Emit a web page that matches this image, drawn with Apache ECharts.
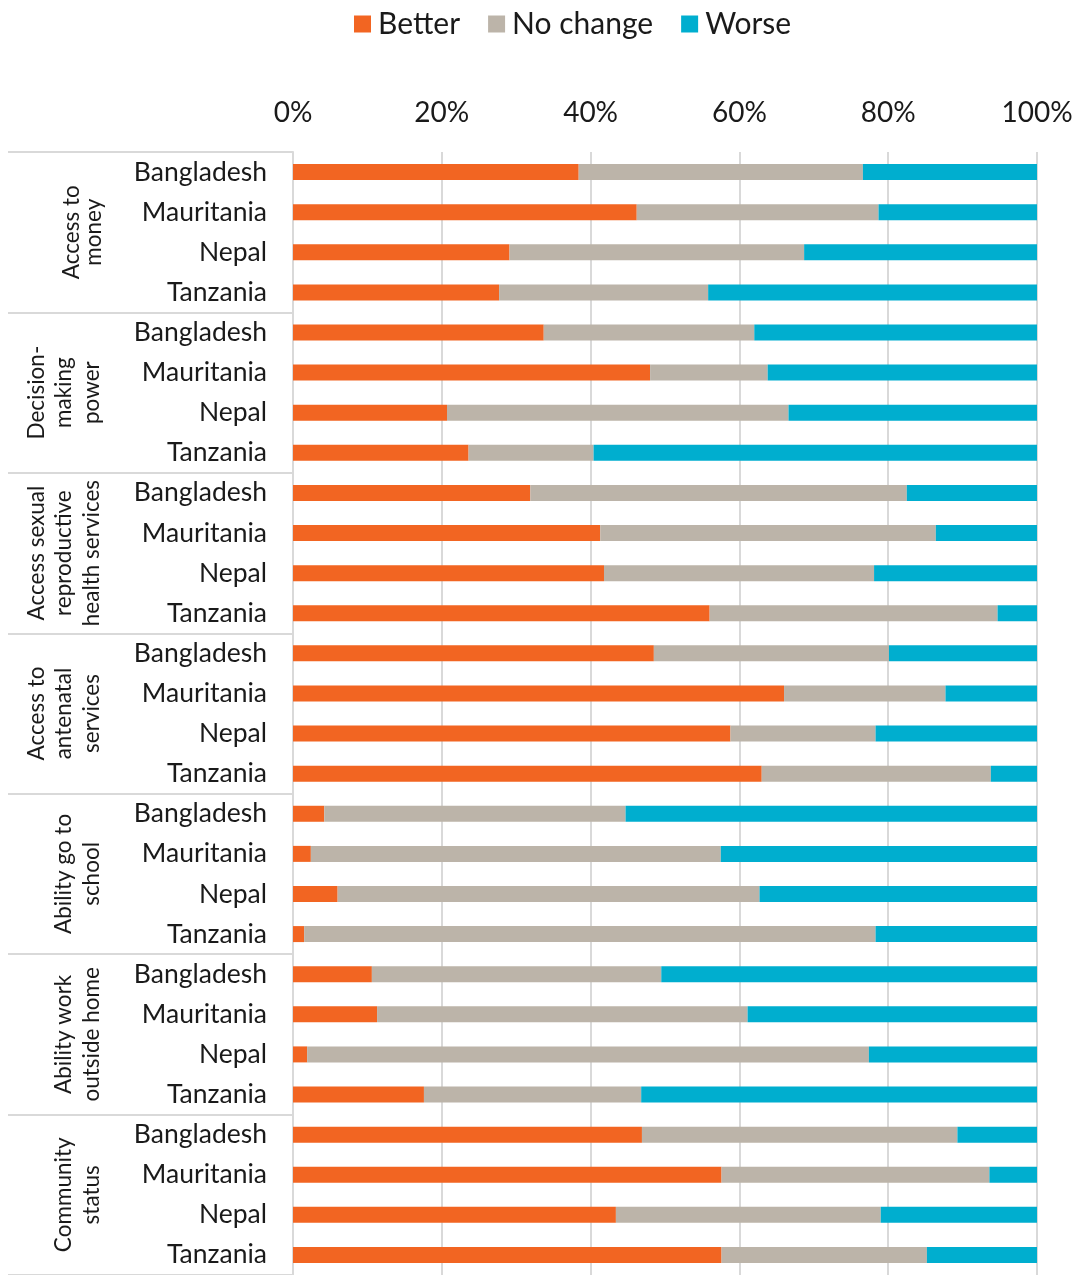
<!DOCTYPE html>
<html>
<head>
<meta charset="utf-8">
<script src="https://cdn.jsdelivr.net/npm/echarts@6/dist/echarts.min.js"></script>
<style>
  html, body { margin: 0; padding: 0; background: #ffffff; }
  #chart { width: 1081px; height: 1275px; }
</style>
</head>
<body>
<div id="chart"></div>
<script>
// Outcome groups (each spans four country rows)
const groups = [
  'Access to\nmoney',
  'Decision-\nmaking\npower',
  'Access sexual\nreproductive\nhealth services',
  'Access to\nantenatal\nservices',
  'Ability go to\nschool',
  'Ability work\noutside home',
  'Community\nstatus'
];
const countries = ['Bangladesh', 'Mauritania', 'Nepal', 'Tanzania'];

// Share of respondents (%) per row, top to bottom
const better = [
  38.4, 46.2, 29.1, 27.7,
  33.7, 48.0, 20.7, 23.6,
  31.9, 41.3, 41.8, 56.0,
  48.5, 66.0, 58.8, 63.0,
  4.2, 2.4, 6.0, 1.5,
  10.6, 11.3, 1.9, 17.6,
  46.9, 57.6, 43.4, 57.6
];
const noChange = [
  38.2, 32.5, 39.6, 28.1,
  28.3, 15.8, 45.9, 16.8,
  50.6, 45.1, 36.3, 38.7,
  31.6, 21.7, 19.5, 30.8,
  40.5, 55.1, 56.7, 76.8,
  38.9, 49.8, 75.5, 29.2,
  42.4, 36.0, 35.6, 27.6
];
const worse = [
  23.4, 21.3, 31.3, 44.2,
  38.0, 36.2, 33.4, 59.6,
  17.5, 13.6, 21.9, 5.3,
  19.9, 12.3, 21.7, 6.2,
  55.3, 42.5, 37.3, 21.7,
  50.5, 38.9, 22.6, 53.2,
  10.7, 6.4, 21.0, 14.8
];
const xTicks = { min: 0, max: 100, interval: 20 };

// One row label per bar: the country list repeated for every group
const rowLabels = [];
groups.forEach(() => countries.forEach(c => rowLabels.push(c)));

const FONT = 'Lato, "Noto Sans", sans-serif';
const GRID_LINE = '#d9d9d9';

const chart = echarts.init(document.getElementById('chart'), null, { renderer: 'canvas' });

chart.setOption({
  backgroundColor: '#ffffff',
  animation: false,
  textStyle: { fontFamily: FONT, color: '#1a1a1a' },
  legend: {
    top: 4,
    left: 349,
    icon: 'rect',
    itemWidth: 17,
    itemHeight: 17,
    itemGap: 28,
    textStyle: { fontFamily: FONT, fontSize: 30, color: '#1a1a1a', padding: [0, 0, 0, 2] },
    data: ['Better', 'No change', 'Worse']
  },
  grid: { left: 293, top: 152, width: 744, height: 1126, containLabel: false },
  xAxis: {
    type: 'value',
    position: 'top',
    min: xTicks.min,
    max: xTicks.max,
    interval: xTicks.interval,
    axisLine: { show: false },
    axisTick: { show: false },
    axisLabel: {
      formatter: '{value}%',
      fontFamily: FONT,
      fontSize: 28,
      color: '#1a1a1a',
      margin: 25
    },
    splitLine: { show: true, lineStyle: { color: GRID_LINE, width: 2 } }
  },
  yAxis: [
    {
      type: 'category',
      inverse: true,
      data: rowLabels,
      axisLine: { show: true, lineStyle: { color: GRID_LINE, width: 2 } },
      axisTick: { show: false },
      axisLabel: {
        interval: 0,
        fontFamily: FONT,
        fontSize: 26.5,
        color: '#1a1a1a',
        margin: 26
      }
    },
    {
      // group band: ticks mark the group boundaries, labels name the groups
      type: 'category',
      inverse: true,
      position: 'left',
      data: groups,
      axisLine: { show: false },
      axisTick: {
        show: true,
        interval: 0,
        length: 285,
        lineStyle: { color: GRID_LINE, width: 2 }
      },
      axisLabel: {
        interval: 0,
        rotate: 90,
        margin: 188,
        align: 'center',
        verticalAlign: 'bottom',
        fontFamily: FONT,
        fontSize: 22.5,
        lineHeight: 27.5,
        color: '#1a1a1a',
        // the first group is set a little tighter
        formatter: (value, index) => index === 0
          ? value.split('\n').map(s => '{tight|' + s + '}').join('\n')
          : value,
        rich: {
          tight: { fontFamily: FONT, fontSize: 22.5, lineHeight: 22, color: '#1a1a1a' }
        }
      },
      splitLine: { show: false }
    }
  ],
  series: [
    {
      name: 'Better', type: 'bar', stack: 'total', barWidth: 16,
      itemStyle: { color: '#F26522' }, data: better
    },
    {
      name: 'No change', type: 'bar', stack: 'total', barWidth: 16,
      itemStyle: { color: '#BCB4A9' }, data: noChange
    },
    {
      name: 'Worse', type: 'bar', stack: 'total', barWidth: 16,
      itemStyle: { color: '#00AECF' }, data: worse
    }
  ]
});
</script>
</body>
</html>
